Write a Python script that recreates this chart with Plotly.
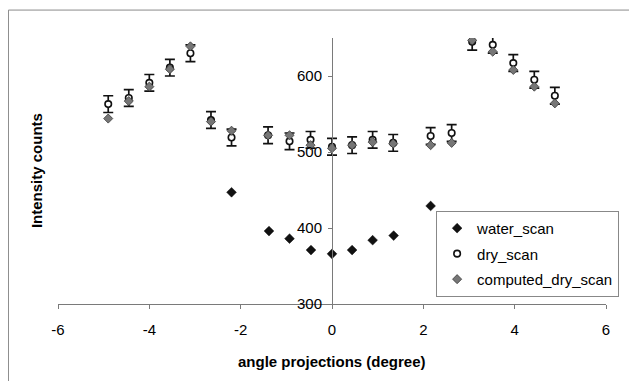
import plotly.graph_objects as go

# ---- data ----
water_x = [-2.2, -1.38, -0.93, -0.46, 0.0, 0.44, 0.89, 1.35, 2.16]
water_y = [447, 396, 386, 371, 366, 371, 384, 390, 429]

scan_x = [-4.9, -4.45, -4.0, -3.55, -3.1, -2.65, -2.2, -1.4, -0.93, -0.47, 0.0,
          0.44, 0.89, 1.34, 2.16, 2.62, 3.07, 3.52, 3.97, 4.43, 4.88]
dry_y = [563, 571, 591, 611, 630, 542, 519, 522, 514, 516, 507,
         509, 516, 512, 521, 525, 645, 641, 617, 595, 574]
dry_err = [11] * len(scan_x)
computed_y = [544, 567, 586, 609, 639, 540, 528, 522, 522, 509, 505,
              509, 513, 511, 509, 512, 647, 632, 608, 586, 564]

x_ticks = [-6, -4, -2, 0, 2, 4, 6]
y_ticks = [300, 400, 500, 600]

FONT = "Arial, Liberation Sans, sans-serif"

fig = go.Figure()
fig.add_trace(go.Scatter(
    x=water_x, y=water_y, mode="markers", name="water_scan", legendgroup="a",
    marker=dict(symbol="diamond", size=7.5, color="#111111",
                line=dict(color="#111111", width=0.5))))
fig.add_trace(go.Scatter(
    x=scan_x, y=dry_y, mode="markers", name="dry_scan", legendgroup="b",
    error_y=dict(type="data", array=dry_err, visible=True, color="#111111",
                 thickness=1.7, width=5),
    marker=dict(symbol="circle", size=6.5, color="white",
                line=dict(color="#111111", width=1.6))))
fig.add_trace(go.Scatter(
    x=scan_x, y=computed_y, mode="markers", name="computed_dry_scan", legendgroup="c",
    marker=dict(symbol="diamond", size=7, color="#767676",
                line=dict(color="#3a3a3a", width=0.8))))

fig.update_layout(
    width=637, height=381,
    margin=dict(l=50, r=39, t=30, b=85),
    paper_bgcolor="white", plot_bgcolor="white",
    font=dict(family=FONT, size=15, color="black"),
    showlegend=True,
    legend=dict(x=0.69, y=0.35, xanchor="left", yanchor="top",
                bgcolor="white", bordercolor="#888888", borderwidth=1,
                font=dict(family=FONT, size=15, color="black"),
                traceorder="grouped", tracegroupgap=3, itemwidth=30),
    xaxis=dict(range=[-6, 6], tickvals=x_ticks, ticktext=[str(v) for v in x_ticks],
               showgrid=False, zeroline=False, showline=True, linecolor="#7a7a7a",
               linewidth=1, ticks="outside", ticklen=4, tickcolor="#7a7a7a",
               ticklabelstandoff=8, anchor="y",
               tickfont=dict(family=FONT, size=15, color="black")),
    yaxis=dict(range=[300, 650], tickvals=y_ticks, ticktext=[str(v) for v in y_ticks],
               showgrid=False, zeroline=False, showline=True, linecolor="#7a7a7a",
               linewidth=1, ticks="outside", ticklen=4, tickcolor="#7a7a7a",
               anchor="free", position=0.5, ticklabelstandoff=3,
               tickfont=dict(family=FONT, size=15, color="black")),
    annotations=[
        dict(text="<b>angle projections (degree)</b>", xref="paper", yref="paper",
             x=0.5, y=-0.218, xanchor="center", yanchor="middle", showarrow=False,
             font=dict(family=FONT, size=15, color="black")),
        dict(text="<b>Intensity counts</b>", xref="paper", yref="paper",
             x=-0.04, y=0.5, xanchor="center", yanchor="middle", showarrow=False,
             textangle=-90, font=dict(family=FONT, size=15, color="black")),
    ],
    shapes=[
        dict(type="rect", xref="paper", yref="paper", x0=-0.0904, x1=1.08,
             y0=-0.4, y1=1.105, line=dict(color="#8a8a8a", width=1),
             fillcolor="rgba(0,0,0,0)", layer="below"),
    ],
)

fig.write_html("out.html")
